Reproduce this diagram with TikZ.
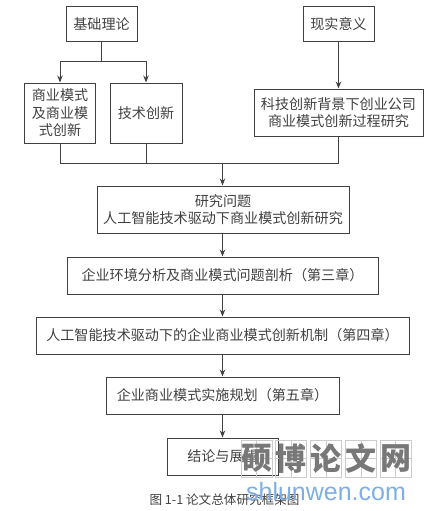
\documentclass[tikz,border=0pt]{standalone}
\usepackage{fontspec}
\usepackage{xcolor}
\setmainfont{Noto Sans CJK SC}
\newfontfamily\urlfont{Liberation Sans}
\usetikzlibrary{calc, positioning, arrows.meta}
\definecolor{linegray}{gray}{0.25}
\definecolor{textgray}{gray}{0.25}
\definecolor{markgray}{gray}{0.47}
\definecolor{cellgray}{gray}{0.8}
\definecolor{urlblue}{RGB}{125,175,230}
\tikzset{
  boxnode/.style={draw=linegray, line width=1pt, inner sep=0pt, align=center, text=textgray,
    font=\fontsize{14.1}{17.5}\selectfont},
  plainline/.style={draw=linegray, line width=1pt},
  arrowline/.style={plainline, -{Stealth[length=7pt, width=5.5pt]}},
  markcell/.style={draw=cellgray, line width=0.8pt, minimum width=31pt, minimum height=37pt, inner sep=0pt,
    text=markgray, font=\fontsize{31}{31}\selectfont\bfseries,
    path picture={\draw[cellgray, line width=0.5pt] (path picture bounding box.north) -- (path picture bounding box.south)
      (path picture bounding box.west) -- (path picture bounding box.east);}}
}

\begin{document}
\begin{tikzpicture}[x=1pt, y=-1pt]
\useasboundingbox (0,0) rectangle (429,511);

% upper boxes
\node[boxnode, minimum width=71pt, minimum height=35pt] (jichu) at (101.5,24.5) {基础理论};
\node[boxnode, minimum width=71pt, minimum height=35pt] (xianshi) at (338.5,24.5) {现实意义};
\node[boxnode, minimum width=71pt, minimum height=60pt] (shangye) at (60,113) {商业模式\\及商业模\\式创新};
\node[boxnode, minimum width=72pt, minimum height=60pt] (jishu) at (146,113) {技术创新};
\node[boxnode, minimum width=169pt, minimum height=47pt] (guocheng) at (338.5,112.5) {科技创新背景下创业公司\\商业模式创新过程研究};

% main column
\node[boxnode, minimum width=252pt, minimum height=47pt] (wenti) at (223,209.5) {研究问题\\人工智能技术驱动下商业模式创新研究};
\node[boxnode, minimum width=311pt, minimum height=37pt] (huanjing) at (222.5,275.5) {企业环境分析及商业模式问题剖析（第三章）};
\node[boxnode, minimum width=373pt, minimum height=37pt] (jizhi) at (222.5,335.5) {人工智能技术驱动下的企业商业模式创新机制（第四章）};
\node[boxnode, minimum width=233pt, minimum height=37pt] (guihua) at (222.5,395.5) {企业商业模式实施规划（第五章）};
\node[boxnode, minimum width=111pt, minimum height=37pt] (jielun) at (222.5,456.5) {结论与展望};

\coordinate (fenzhi) at (101.5,62);
\coordinate (huizong) at (222.5,163.5);

\draw[plainline] (jichu.south) -- (fenzhi);
\draw[arrowline] (fenzhi) -| (shangye.north);
\draw[arrowline] (fenzhi) -| (jishu.north);
\draw[arrowline] (xianshi.south) -- (guocheng.north);
\draw[plainline] (shangye.south) |- (huizong);
\draw[plainline] (jishu.south) |- (huizong);
\draw[plainline] (guocheng.south) |- (huizong);
\draw[arrowline] (huizong) -- (huizong |- wenti.north);
\draw[arrowline] (wenti.south -| huizong) -- (huizong |- huanjing.north);
\draw[arrowline] (huanjing.south) -- (jizhi.north);
\draw[arrowline] (jizhi.south) -- (guihua.north);
\draw[arrowline] (guihua.south) -- (jielun.north);

\node[text=textgray, font=\fontsize{12.6}{14}\selectfont, inner sep=0pt] (tuming) at (224.5,500) {图 1-1 论文总体研究框架图};

% watermark
\node[markcell] (shuo) at (256.5,458.5) {硕};
\node[markcell, right=3pt of shuo] (bo) {博};
\node[markcell, right=3pt of bo] (lun) {论};
\node[markcell, right=3pt of lun] (wen) {文};
\node[markcell, right=3pt of wen] (wang) {网};
\node[text=urlblue, inner sep=0pt, font=\urlfont\fontsize{25}{25}\selectfont] (wangzhi) at (326,492) {shlunwen.com};
\end{tikzpicture}
\end{document}
